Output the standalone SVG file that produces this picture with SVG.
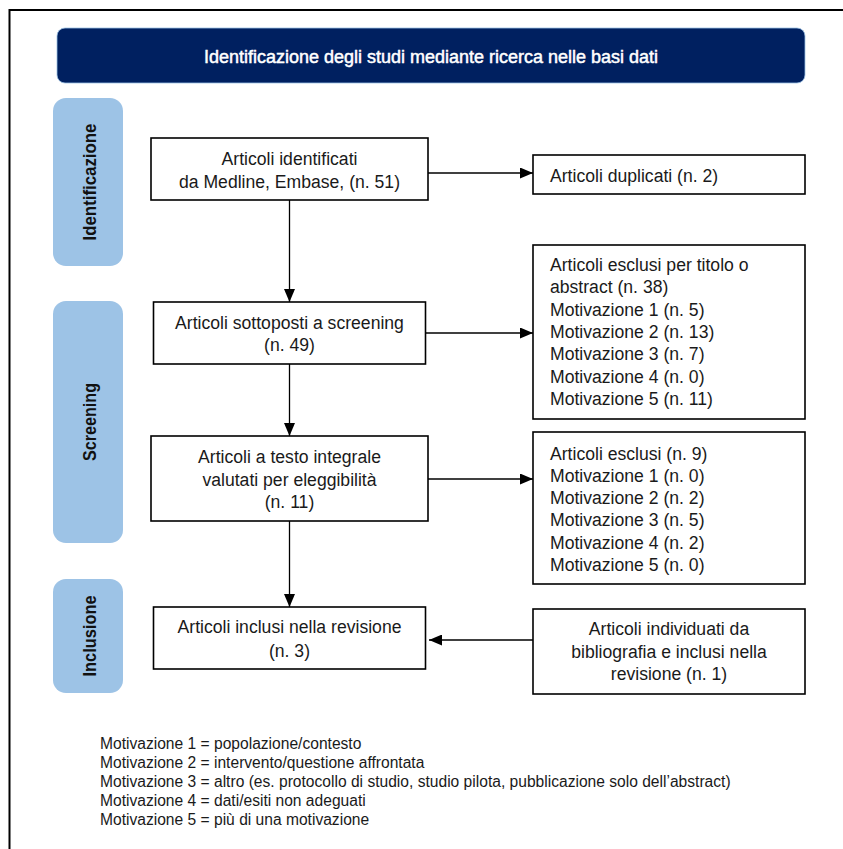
<svg xmlns="http://www.w3.org/2000/svg" width="843" height="849" viewBox="0 0 843 849">
<style>
.box{fill:#fff;stroke:#000;stroke-width:1.6}
.side{fill:#9DC3E6}
.t{font-family:"Liberation Sans",Arial,sans-serif;font-size:17.6px;fill:#1a1a1a}
.c{text-anchor:middle}
.sl{font-family:"Liberation Sans",Arial,sans-serif;font-size:19px;font-weight:bold;fill:#111;text-anchor:middle}
.lg{font-family:"Liberation Sans",Arial,sans-serif;font-size:15.6px;fill:#1a1a1a}
.con{stroke:#000;stroke-width:1.3;fill:none;marker-end:url(#ah)}
</style>
<defs>
<marker id="ah" markerUnits="userSpaceOnUse" markerWidth="13" markerHeight="11" refX="13" refY="5.5" orient="auto">
<path d="M0,0 L13,5.5 L0,11 Z" fill="#000"/>
</marker>
</defs>
<rect x="0" y="0" width="843" height="849" fill="#fff"/>
<rect x="9.5" y="10" width="900" height="900" fill="none" stroke="#000" stroke-width="2"/>

<g id="header">
<rect x="57" y="28" width="748" height="55" rx="8" fill="#002060" stroke="#9DC3E6" stroke-width="0.8"/>
<text x="431" y="62.5" font-family="Liberation Sans,Arial,sans-serif" font-size="18" fill="#fff" stroke="#fff" stroke-width="0.5" text-anchor="middle" textLength="454" lengthAdjust="spacingAndGlyphs">Identificazione degli studi mediante ricerca nelle basi dati</text>
</g>

<g id="phase-identificazione">
<rect class="side" x="53" y="98" width="70" height="168" rx="13"/>
<text class="sl" transform="translate(95.5,182) rotate(-90)" textLength="117" lengthAdjust="spacingAndGlyphs">Identificazione</text>
</g>
<g id="phase-screening">
<rect class="side" x="53" y="301" width="70" height="242" rx="13"/>
<text class="sl" transform="translate(95.5,422) rotate(-90)" textLength="78" lengthAdjust="spacingAndGlyphs">Screening</text>
</g>
<g id="phase-inclusione">
<rect class="side" x="53" y="579" width="70" height="114" rx="13"/>
<text class="sl" transform="translate(95.5,636) rotate(-90)" textLength="81" lengthAdjust="spacingAndGlyphs">Inclusione</text>
</g>

<g id="n-identificati">
<rect class="box" x="151" y="138" width="277" height="62"/>
<text class="t c" x="289.5" y="165">Articoli identificati</text>
<text class="t c" x="289.5" y="187.5">da Medline, Embase, (n. 51)</text>
</g>
<g id="n-duplicati">
<rect class="box" x="533" y="155" width="272" height="39"/>
<text class="t" x="550" y="182">Articoli duplicati (n. 2)</text>
</g>
<g id="n-screening">
<rect class="box" x="153.5" y="302" width="272" height="62"/>
<text class="t c" x="289.5" y="329">Articoli sottoposti a screening</text>
<text class="t c" x="289.5" y="351">(n. 49)</text>
</g>
<g id="n-esclusi1">
<rect class="box" x="533" y="245" width="272" height="174"/>
<text class="t" x="550" y="271">Articoli esclusi per titolo o</text>
<text class="t" x="550" y="293.3">abstract (n. 38)</text>
<text class="t" x="550" y="315.6">Motivazione 1 (n. 5)</text>
<text class="t" x="550" y="337.9">Motivazione 2 (n. 13)</text>
<text class="t" x="550" y="360.2">Motivazione 3 (n. 7)</text>
<text class="t" x="550" y="382.5">Motivazione 4 (n. 0)</text>
<text class="t" x="550" y="404.8">Motivazione 5 (n. 11)</text>
</g>
<g id="n-eleggibilita">
<rect class="box" x="151" y="436" width="277" height="85"/>
<text class="t c" x="289.5" y="463">Articoli a testo integrale</text>
<text class="t c" x="289.5" y="485.5">valutati per eleggibilità</text>
<text class="t c" x="289.5" y="508">(n. 11)</text>
</g>
<g id="n-esclusi2">
<rect class="box" x="533" y="432" width="272" height="152"/>
<text class="t" x="550" y="459.5">Articoli esclusi (n. 9)</text>
<text class="t" x="550" y="481.8">Motivazione 1 (n. 0)</text>
<text class="t" x="550" y="504.1">Motivazione 2 (n. 2)</text>
<text class="t" x="550" y="526.4">Motivazione 3 (n. 5)</text>
<text class="t" x="550" y="548.7">Motivazione 4 (n. 2)</text>
<text class="t" x="550" y="571">Motivazione 5 (n. 0)</text>
</g>
<g id="n-inclusi">
<rect class="box" x="153.5" y="607" width="272" height="62"/>
<text class="t c" x="289.5" y="633">Articoli inclusi nella revisione</text>
<text class="t c" x="289.5" y="657">(n. 3)</text>
</g>
<g id="n-bibliografia">
<rect class="box" x="533" y="609" width="272" height="85"/>
<text class="t c" x="669" y="635">Articoli individuati da</text>
<text class="t c" x="669" y="657.5">bibliografia e inclusi nella</text>
<text class="t c" x="669" y="680">revisione (n. 1)</text>
</g>

<g id="connectors">
<line class="con" x1="289.5" y1="200" x2="289.5" y2="302"/>
<line class="con" x1="428" y1="173" x2="533" y2="173"/>
<line class="con" x1="289.5" y1="364" x2="289.5" y2="436"/>
<line class="con" x1="425.5" y1="333" x2="533" y2="333"/>
<line class="con" x1="428" y1="479" x2="533" y2="479"/>
<line class="con" x1="289.5" y1="521" x2="289.5" y2="607"/>
<line class="con" x1="533" y1="640" x2="429" y2="640"/>
</g>

<g id="legend">
<text class="lg" x="100" y="749">Motivazione 1 = popolazione/contesto</text>
<text class="lg" x="100" y="768">Motivazione 2 = intervento/questione affrontata</text>
<text class="lg" x="100" y="787">Motivazione 3 = altro (es. protocollo di studio, studio pilota, pubblicazione solo dell’abstract)</text>
<text class="lg" x="100" y="806">Motivazione 4 = dati/esiti non adeguati</text>
<text class="lg" x="100" y="825">Motivazione 5 = più di una motivazione</text>
</g>
</svg>
